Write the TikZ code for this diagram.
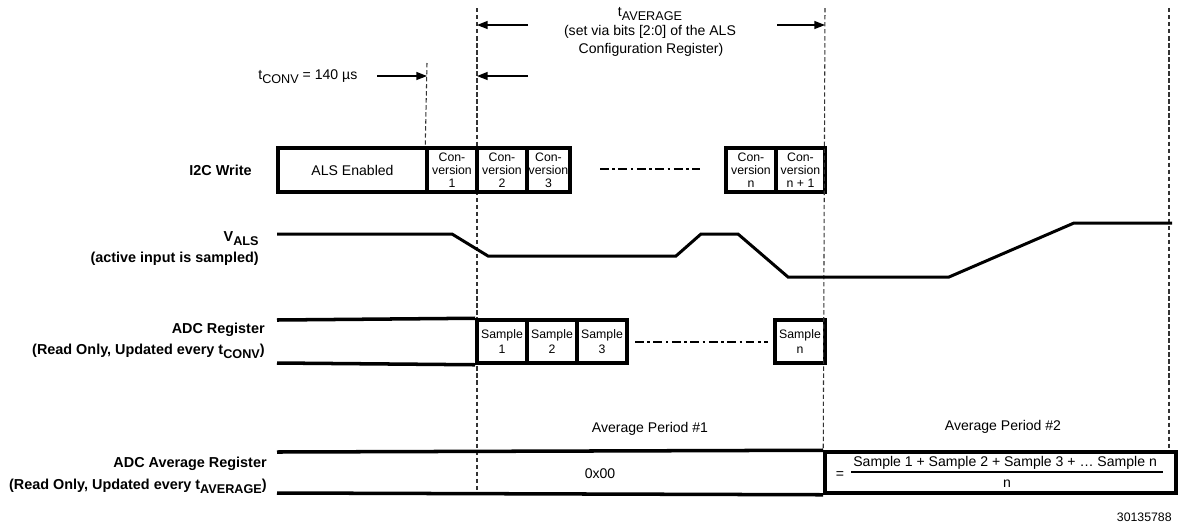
\documentclass[tikz,border=0pt]{standalone}
\usepackage{fontspec}
\setmainfont{Liberation Sans}
\usetikzlibrary{arrows.meta}
\newcommand\mysub[1]{\raisebox{-2.6pt}{\fontsize{7.2}{7.2}\selectfont #1}}
\tikzset{
  wd/.style={minimum width=#1*0.02cm},
  ht/.style={minimum height=#1*0.02cm},
  rowline/.style={line width=2pt},
  wave/.style={line width=1.7pt, line join=miter},
  vdash/.style={line width=0.6pt, dash pattern=on 2.5pt off 1.5pt, black!80},
  dashdot/.style={line width=0.8pt, dash pattern=on 5pt off 2pt on 1.5pt off 2pt},
  arr/.style={line width=0.7pt, -{Triangle[length=6pt,width=4.5pt]}},
  cell/.style={draw, line width=2pt, inner sep=0pt, align=center, fill=white,
               font=\fontsize{7}{7.5}\selectfont},
  scell/.style={cell, font=\fontsize{7}{8.4}\selectfont},
  lbl/.style={font=\bfseries\fontsize{8.2}{9}\selectfont, inner sep=0pt, anchor=base east},
  txt/.style={font=\fontsize{8}{9}\selectfont, inner sep=0pt},
}
\begin{document}
\begin{tikzpicture}[x=0.02cm, y=-0.02cm]
\fill[white] (0,0) rectangle (1178,529);
\useasboundingbox (0,0) rectangle (1178,529);

% dashed timing lines
\coordinate (d1t) at (427,63);
\coordinate (d2t) at (477,8);
\coordinate (d2b) at (477,493);
\coordinate (d3t) at (825,8);
\coordinate (d4t) at (1169,8);
\coordinate (d4b) at (1169,451);
\draw[vdash] (d2t) -- (d2b);
\draw[vdash] (d4t) -- (d4b);

% I2C write row
\node[cell, wd=149, ht=44, font=\fontsize{8}{9}\selectfont] (als) at (352.5,170) {ALS Enabled};
\node[cell, wd=50, ht=44] (c1) at (452,170) {Con-\\version\\1};
\node[cell, wd=50, ht=44] (c2) at (502,170) {Con-\\version\\2};
\node[cell, wd=43, ht=44] (c3) at (548.5,170) {Con-\\version\\3};
\node[cell, wd=50, ht=44] (cn) at (751,170) {Con-\\version\\n};
\node[cell, wd=49, ht=44] (cn1) at (800.5,170) {Con-\\version\\n + 1};
\coordinate (dd1a) at (600,169);
\coordinate (dd1b) at (700,169);
\draw[dashdot] (dd1a) -- (dd1b);

\draw[vdash] (d1t) -- (c1.north west);

% ADC register row
\coordinate (adcT) at (277,320);
\coordinate (adcB) at (277,363);
\node[scell, wd=50, ht=43] (s1) at (502,341.5) {Sample\\1};
\node[scell, wd=50, ht=43] (s2) at (552,341.5) {Sample\\2};
\node[scell, wd=50, ht=43] (s3) at (602,341.5) {Sample\\3};
\node[scell, wd=50, ht=43] (sn) at (800,341.5) {Sample\\n};
\draw[rowline] (adcT) -- (s1.north west);
\draw[rowline] (adcB) -- (s1.south west);
\coordinate (dd2a) at (635,342);
\coordinate (dd2b) at (768,342);
\draw[dashdot] (dd2a) -- (dd2b);

% ADC average register row
\coordinate (avT) at (277,452);
\coordinate (avB) at (277,493);
\node[draw, line width=2pt, wd=351, ht=41, inner sep=0pt] (avg) at (1000.5,472.5) {};
\draw[rowline] (avT) -- (avg.north west);
\draw[rowline] (avB) -- (avg.south west);
\draw[vdash] (d3t) -- (avg.north west);

% V_ALS waveform
\coordinate (v0) at (277,234);
\draw[wave] (v0) -- (452,234) -- (488,256) -- (676,256) -- (701,234) -- (738,234)
  -- (788,277) -- (949,277) -- (1074,223) -- (1172,223);

% arrows
\coordinate (a1s) at (528,25);  \coordinate (a1e) at (477,25);
\coordinate (a2s) at (777,25);  \coordinate (a2e) at (825,25);
\coordinate (a3s) at (528,76);  \coordinate (a3e) at (477,76);
\coordinate (a4s) at (377,76);  \coordinate (a4e) at (427,76);
\draw[arr] (a1s) -- (a1e);
\draw[arr] (a2s) -- (a2e);
\draw[arr] (a3s) -- (a3e);
\draw[arr] (a4s) -- (a4e);

% header texts
\node[txt, anchor=base] (tavg) at (650,16) {t\mysub{AVERAGE}};
\node[txt, anchor=base] (setvia) at (650,35) {(set via bits [2:0] of the ALS};
\node[txt, anchor=base] (cfgreg) at (651,53) {Configuration Register)};
\node[txt, anchor=base west] (tconv) at (258,79) {t\mysub{CONV} = 140 µs};

% row labels
\node[lbl] (i2c) at (252,175) {I2C Write};
\node[lbl] (vals) at (259,241) {V\mysub{ALS}};
\node[lbl] (valsb) at (259,262) {(active input is sampled)};
\node[lbl] (adc) at (265,333) {ADC Register};
\node[lbl] (adcb) at (265,354) {(Read Only, Updated every t\mysub{CONV})};
\node[lbl] (aadc) at (267,467) {ADC Average Register};
\node[lbl] (aadcb) at (267,489) {(Read Only, Updated every t\mysub{AVERAGE})};

% average texts
\node[txt] (ap1) at (650,429) {Average Period \#1};
\node[txt] (ap2) at (1003,427) {Average Period \#2};
\node[txt] (zero) at (600,474) {0x00};
\node[txt] (eq) at (840,475) {=};
\node[txt, anchor=west] (num) at (853,463) {Sample 1 + Sample 2 + Sample 3 + … Sample n};
\node[txt] (den) at (1007,484) {n};
\coordinate (fl1) at (851,472);
\coordinate (fl2) at (1163,472);
\draw[line width=0.6pt] (fl1) -- (fl2);

\node[txt, anchor=base east, font=\fontsize{7}{8}\selectfont] (fig) at (1172,521) {30135788};
\end{tikzpicture}
\end{document}
